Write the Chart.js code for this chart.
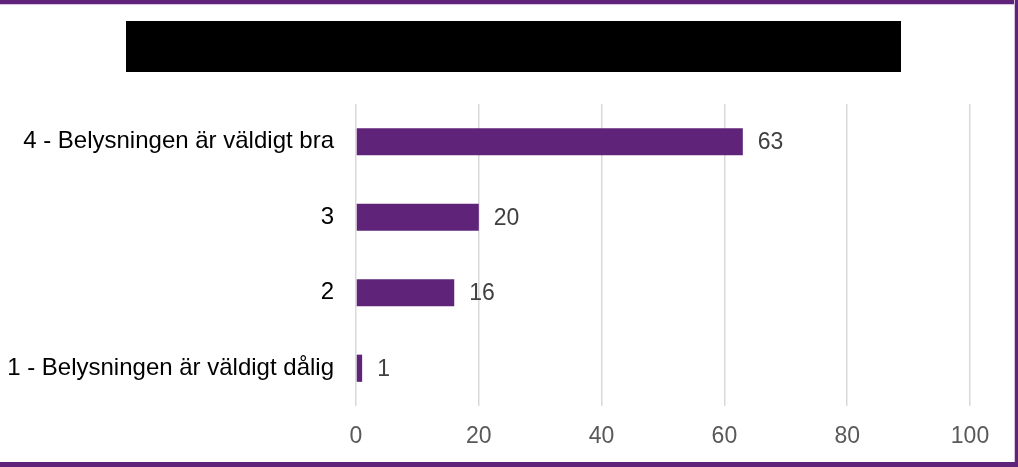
<!DOCTYPE html>
<html>
<head>
<meta charset="utf-8">
<script src="https://cdn.jsdelivr.net/npm/chart.js@4/dist/chart.umd.min.js"></script>
<style>
  html, body { margin: 0; padding: 0; background: #fff; }
  #wrap { position: relative; width: 1018px; height: 467px; overflow: hidden; background: #fff; }
  #chart { position: absolute; left: 0; top: 0; }
  .edge { position: absolute; background: #5f2479; }
  .edge.top { left: 0; top: 0; width: 1018px; height: 4px; border-bottom: 1px solid #d6c3df; }
  .edge.right { top: 0; right: 0; width: 3px; height: 467px; border-left: 1px solid #d6c3df; }
  .edge.bottom { left: 0; bottom: 0; width: 1018px; height: 5px; }
  #titleBox { position: absolute; left: 126px; top: 21px; width: 775px; height: 51px; background: #000; }
</style>
</head>
<body>
<div id="wrap">
  <canvas id="chart" width="1018" height="467"></canvas>
  <div id="titleBox"></div>
  <div class="edge top"></div>
  <div class="edge right"></div>
  <div class="edge bottom"></div>
</div>
<script>
// answer categories (top to bottom) and response counts
const categories = [
  '4 - Belysningen är väldigt bra',
  '3',
  '2',
  '1 - Belysningen är väldigt dålig'
];
const counts = [63, 20, 16, 1];
const xTicks = [0, 20, 40, 60, 80, 100];

const barColor = '#5f2479';
const fontFamily = '"Liberation Sans", Arial, sans-serif';

// prints the count just right of each bar
const valueLabels = {
  id: 'valueLabels',
  afterDatasetsDraw(chart) {
    const ctx = chart.ctx;
    const meta = chart.getDatasetMeta(0);
    ctx.save();
    ctx.font = '23px ' + fontFamily;
    ctx.fillStyle = '#404040';
    ctx.textAlign = 'left';
    ctx.textBaseline = 'middle';
    meta.data.forEach((bar, i) => {
      ctx.fillText(String(counts[i]), bar.x + 15, bar.y + 1);
    });
    ctx.restore();
  }
};

new Chart(document.getElementById('chart').getContext('2d'), {
  type: 'bar',
  data: {
    labels: categories,
    datasets: [{
      data: counts,
      backgroundColor: barColor,
      borderWidth: 0,
      categoryPercentage: 0.72,
      barPercentage: 0.5
    }]
  },
  plugins: [valueLabels],
  options: {
    indexAxis: 'y',
    responsive: false,
    animation: false,
    layout: { padding: { left: 0, top: 104, right: 48, bottom: 0 } },
    plugins: { legend: { display: false }, tooltip: { enabled: false } },
    scales: {
      x: {
        min: 0,
        max: 100,
        afterBuildTicks(scale) { scale.ticks = xTicks.map(v => ({ value: v })); },
        afterFit(scale) { scale.height = 61; },
        border: { display: false },
        grid: { color: '#d9d9d9', lineWidth: 1.5, drawTicks: false },
        ticks: {
          padding: 17,
          color: '#595959',
          font: { family: fontFamily, size: 23 }
        }
      },
      y: {
        afterFit(scale) { scale.width = 356; },
        border: { display: false },
        grid: { display: false, drawTicks: false },
        ticks: {
          padding: 22,
          color: '#000',
          font: { family: fontFamily, size: 24 }
        }
      }
    }
  }
});
</script>
</body>
</html>
